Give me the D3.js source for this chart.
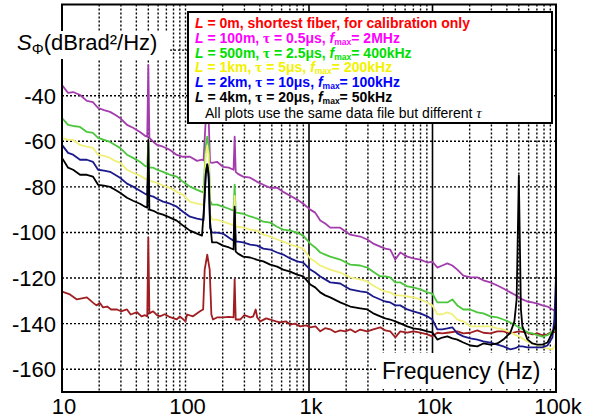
<!DOCTYPE html>
<html><head><meta charset="utf-8">
<script src="https://cdn.jsdelivr.net/npm/d3@7"></script>
<style>
html,body{margin:0;padding:0;background:#fff;}
svg{display:block;font-family:"Liberation Sans",Arial,sans-serif;}
</style></head><body>
<svg id="chart" width="592" height="418"></svg>
<script>
// ---------------- data ----------------
const freq = [10,11.2,12.3,14,15.9,17.8,19.6,21.9,24.5,26.9,29.5,33.6,37.6,42.8,47,49,50,51,55,58.8,65.8,75,85,95.5,108.7,124,136,140,146,150,154,158,164,180,201,225,245,250,255,266,293,334,381,427,485,552,618,704,802,898,1023,1122,1233,1353,1485,1789,2157,2599,2962,3313,3776,4145,4550,4994,5483,6249,6990,7965,9074,9963,10937,12007,13183,14468,15885,17768,20250,23070,25800,29400,33500,37480,42700,46030,48000,50000,52000,53430,58650,64400,70700,77600,85200,93500,97000,100000];

const s100m = [-35.3,-38.8,-38.4,-39.7,-42.3,-42.8,-45.4,-46.3,-47.1,-48.4,-49.8,-52.8,-54.1,-55.9,-57.6,-58,-26.6,-58.5,-60.3,-61.6,-62.4,-63.8,-66,-66.8,-66.8,-68.6,-68.1,-68.4,-50,-45,-50,-69.2,-69.5,-69,-71.2,-71.6,-72.5,-58,-73.4,-74.3,-75.5,-76,-77.8,-79.1,-80.4,-80.4,-82.2,-83.9,-85.6,-87.4,-90,-91.3,-94.8,-96.1,-97.9,-97.9,-101,-101.8,-103.1,-104.9,-106.2,-107.1,-107.5,-111.9,-108.8,-110.6,-111.4,-111.9,-113.2,-112.8,-115.4,-114.5,-113.6,-114.5,-116.3,-118.9,-119.7,-119.7,-121,-121.9,-123.3,-124.6,-126.3,-127.2,-127.8,-128.5,-129,-129.4,-130.3,-130.7,-131.2,-132,-132.5,-133.8,-134.2,-134.6];

const s500m = [-49.8,-52.8,-53.3,-53.7,-55.9,-56.3,-58.5,-59.4,-60.3,-61.6,-62.9,-65.9,-67.3,-69,-70.8,-71.2,-60,-71.6,-71.6,-72.5,-73.4,-74.7,-75.5,-77.8,-79.9,-81.3,-82.2,-82.5,-62,-58,-62,-86,-87.8,-87.8,-88.7,-89.6,-90.5,-79,-91.4,-91.4,-91.8,-93,-93.9,-95.3,-95.7,-97.5,-98.8,-99.2,-100.1,-101.4,-104.9,-106.6,-108.8,-109.7,-110.6,-111.9,-114.1,-114.5,-115.4,-117.2,-119.3,-119.3,-119.7,-121.9,-121.9,-123.7,-124.1,-125,-126.3,-126.8,-130.7,-130.7,-130.7,-129.4,-132,-133.8,-133.8,-135.1,-135.5,-136.8,-137.3,-138.2,-139.5,-140.4,-141,-141.6,-142,-142.5,-143.8,-144.3,-145.1,-145.7,-145.1,-143.4,-142.9,-142.5];

const s1km = [-58.5,-59.4,-59.4,-61.6,-62.4,-62.9,-65.9,-66.4,-67.3,-68.6,-69.4,-72.5,-73.8,-75.1,-76.4,-76.9,-64,-77.3,-77.8,-78.2,-79.5,-80.4,-82.2,-83.5,-86.5,-87.4,-87.8,-88,-66,-62,-66,-92,-94.4,-94.4,-95.3,-96.1,-97,-84,-97.5,-97.5,-97.9,-98.8,-99.2,-101,-101.8,-103.1,-104,-105.3,-106.2,-107.1,-111.4,-112.8,-114.5,-115.4,-116.3,-117.6,-119.7,-120.6,-121.5,-123.3,-125,-125.9,-126.3,-127.6,-127.6,-128.1,-128.5,-129.4,-130.7,-132,-135.9,-135.9,-135.1,-135.9,-138.2,-139,-141.2,-141.2,-141.2,-141.2,-142.1,-142.5,-143.8,-144.7,-145.2,-145.6,-146,-146.5,-147.8,-148.7,-149.6,-150.4,-150.9,-151.3,-150,-148.7];

const s2km = [-61.6,-65.1,-65.9,-68.1,-68.1,-69,-72.5,-72.9,-73.4,-74.7,-76,-78.6,-79.9,-81.7,-83,-83.5,-70,-83.9,-84.3,-85.2,-86.5,-87.4,-88.7,-90.9,-93.1,-93.9,-94.4,-94.6,-74,-70,-74,-98,-100.1,-100.1,-100.5,-102.3,-103.6,-90,-104,-104,-104.4,-105.3,-105.8,-107.1,-107.5,-108.8,-109.7,-111.4,-112.7,-113.2,-116.3,-117.6,-119.3,-120.6,-121.9,-122.4,-125,-125.9,-126.3,-128.1,-129.4,-130.3,-130.7,-132,-132,-133.8,-134.6,-135.5,-136.8,-138.2,-142.5,-142.5,-142.1,-141.6,-144.3,-145.6,-146.5,-147,-147.8,-148.3,-149.2,-150,-151.3,-150.9,-150.5,-150,-150,-150,-150.4,-150.4,-150.4,-150.4,-149.6,-146.1,-138,-119.3];

const s4km = [-67.3,-71.6,-72.5,-74.7,-74.7,-75.5,-79.1,-79.5,-80,-81.3,-82.6,-84.8,-86.1,-87.4,-88.7,-89.1,-59.4,-90,-90.5,-91.4,-92.2,-93.5,-94.8,-97,-99.2,-100.5,-101.4,-92,-74,-70.3,-76,-95,-104.4,-104.4,-105.8,-106.6,-107.5,-88.7,-108.4,-109.3,-110.6,-111,-112,-112.7,-114.1,-115,-116.3,-117.2,-118.5,-119.3,-122.8,-124.1,-126.3,-127.6,-128.5,-130.7,-132.5,-133.3,-133.8,-135.5,-136.8,-137.7,-138.2,-139,-139.9,-141.2,-142.1,-142.5,-143.4,-143.8,-147,-146.1,-145.6,-146.5,-147,-148.3,-149.6,-150,-148.7,-149.2,-148.7,-147,-144,-139,-129.4,-75,-133.8,-141.2,-146.9,-148.7,-149.2,-149.2,-148.3,-144,-142,-139.5];

const refFreq = [10,11.6,13.2,15.9,17.8,19,20.3,21.5,23.2,25,27.9,30,33.6,36,40.5,44,47,49,50,51,54.7,58.8,62,68,75,85,90,95.5,100,103,115,131,139,143,150,157,162,167,180,201,225,245,250,255,277,300,335,354,370,381,403,450,485,540,584,650,704,770,850,950,1023,1130,1233,1350,1485,1630,1789,1965,2157,2368,2599,2962,3313,3776,4145,4550,4994,5483,6249,6990,7965,9074,9963,10937,12007,13183,15885,17768,20250,23070,25800,29400,33500,37480,42700,50000,58650,64400,70700,77600,85200,93500,100000];
const s0m = [-125.9,-127.2,-129.4,-128.5,-130.8,-132,-131,-132.9,-132.5,-133.8,-133.8,-134.6,-133.8,-136,-135,-136.8,-136.3,-136.8,-102.3,-135.5,-134.6,-136.3,-136.8,-135.9,-137.2,-138.1,-136.8,-138,-139,-136,-136.8,-134.6,-133.8,-116.3,-109.7,-116.3,-136,-138.2,-137.3,-137.3,-137,-137.3,-120.6,-138.2,-138.2,-136.3,-137.3,-136.8,-133.8,-137.3,-139,-137.7,-138.2,-139,-139.5,-139,-140.4,-140,-141.2,-140.8,-141.6,-141.2,-143.4,-142,-142.5,-143.8,-143,-143.4,-142.5,-143.8,-142.6,-143.4,-142.5,-141.6,-143,-143.4,-146,-143.4,-144,-143.4,-144,-144.7,-145.6,-144,-144.3,-144,-143.4,-144.3,-144,-143,-144,-144.3,-143.4,-143.4,-144.3,-143.4,-144,-144.7,-144.3,-145.1,-144.7,-143.4,-144];

const seriesNames = ["0m","100m","500m","1km","2km","4km"];
const seriesTau = ["","0.5μs","2.5μs","5μs","10μs","20μs"];
const seriesFmax = ["","2MHz","400kHz","200kHz","100kHz","50kHz"];
const xTickValues = [10,100,1000,10000,100000];
const xTickLabels = ["10","100","1k","10k","100k"];
const yTickValues = [-160,-140,-120,-100,-80,-60,-40];
const yGridValues = [-160,-140,-120,-100,-80,-60,-40,-20];

// ---------------- styles ----------------
const lineColors = ["#a01e22","#a33cad","#4cc63c","#f0f07a","#1b1a8c","#000000"];
const legendColors = ["#ff0000","#ff00ff","#00e000","#f2f200","#0000ff","#000000"];

const svg = d3.select("#chart");
const x = d3.scaleLog().domain([10,1e5]).range([62,556]);
const y = d3.scaleLinear().domain([-170,0]).range([392,4.5]);

svg.append("defs").append("clipPath").attr("id","plotclip")
  .append("rect").attr("x",x.range()[0]).attr("y",y.range()[1])
  .attr("width",x.range()[1]-x.range()[0]).attr("height",y.range()[0]-y.range()[1]);

// grid
const minor = [];
[10,100,1000,10000].forEach(d=>{for(let k=1;k<=9;k++){const v=d*k; if(v>10&&v<1e5) minor.push(v);}});
const grid = svg.append("g");
grid.selectAll("line.v").data(minor).join("line")
  .attr("x1",d=>x(d)).attr("x2",d=>x(d)).attr("y1",y.range()[1]).attr("y2",y.range()[0])
  .attr("stroke","#000")
  .attr("stroke-width",d=>(d===1000||d===10000)?1.6:1.4)
  .attr("stroke-dasharray",d=>(d===1000||d===10000)?null:"2,2");
grid.selectAll("line.h").data(yGridValues).join("line")
  .attr("x1",x.range()[0]).attr("x2",x.range()[1]).attr("y1",d=>y(d)).attr("y2",d=>y(d))
  .attr("stroke","#000").attr("stroke-width",1.4).attr("stroke-dasharray","2,2");

// curves
const line = d3.line().x(d=>x(d[0])).y(d=>y(d[1]));
const allSeries = [
  {f:refFreq, v:s0m, c:lineColors[0]},
  {f:freq, v:s100m, c:lineColors[1]},
  {f:freq, v:s500m, c:lineColors[2]},
  {f:freq, v:s1km, c:lineColors[3]},
  {f:freq, v:s2km, c:lineColors[4]},
  {f:freq, v:s4km, c:lineColors[5]}
];
const curves = svg.append("g").attr("clip-path","url(#plotclip)");
allSeries.forEach(s=>{
  curves.append("path").datum(s.f.map((f,i)=>[f,s.v[i]]))
    .attr("d",line).attr("fill","none").attr("stroke",s.c)
    .attr("stroke-width",1.8).attr("stroke-linejoin","round");
});

// frame
svg.append("rect").attr("x",x.range()[0]).attr("y",y.range()[1])
  .attr("width",x.range()[1]-x.range()[0]).attr("height",y.range()[0]-y.range()[1])
  .attr("fill","none").attr("stroke","#000").attr("stroke-width",2);

// tick labels
svg.append("g").selectAll("text").data(yTickValues).join("text")
  .attr("x",56).attr("y",d=>y(d)).attr("dy","0.36em").attr("text-anchor","end")
  .attr("font-size",22).text(d=>String(d));
svg.append("g").selectAll("text").data(xTickValues).join("text")
  .attr("x",d=>x(d)+2).attr("y",414).attr("text-anchor","middle")
  .attr("font-size",22).text((d,i)=>xTickLabels[i]);

// y-axis title with white background
svg.append("rect").attr("x",14).attr("y",31).attr("width",156).attr("height",28).attr("fill","#fff");
const yt = svg.append("text").attr("x",17).attr("y",50).attr("font-size",22);
yt.append("tspan").attr("font-style","italic").text("S");
yt.append("tspan").attr("font-size",15).attr("dy",4).text("Φ");
yt.append("tspan").attr("dy",-4).text("(dBrad²/Hz)");

// x-axis title with white background
svg.append("rect").attr("x",377).attr("y",353).attr("width",174).attr("height",36).attr("fill","#fff");
svg.append("text").attr("x",382).attr("y",379).attr("font-size",23).text("Frequency (Hz)");

// legend
svg.append("rect").attr("x",188).attr("y",12).attr("width",364).attr("height",111)
  .attr("fill","#fff").attr("stroke","#000").attr("stroke-width",2);
const lg = svg.append("g").attr("font-size",14).attr("font-weight","bold");
seriesNames.forEach((n,i)=>{
  const t = lg.append("text").attr("x",195).attr("y",28+i*14.8).attr("fill",legendColors[i]);
  t.append("tspan").attr("font-style","italic").text("L");
  if(i===0){ t.append("tspan").text(" = "+n+", shortest fiber, for calibration only"); return; }
  t.append("tspan").text(" = "+n+", ");
  t.append("tspan").attr("font-family","'Liberation Serif',serif").attr("font-size",15).text("τ");
  t.append("tspan").text(" = "+seriesTau[i]+", ");
  t.append("tspan").attr("font-style","italic").text("f");
  t.append("tspan").attr("font-size",8.5).attr("dy",2).text("max");
  t.append("tspan").attr("dy",-2).text("= "+seriesFmax[i]);
});
const lt = svg.append("text").attr("x",205).attr("y",118).attr("font-size",14);
lt.append("tspan").text("All plots use the same data file but different ");
lt.append("tspan").attr("font-family","'Liberation Serif',serif").attr("font-style","italic").attr("font-size",15).text("τ");
</script>
</body></html>
